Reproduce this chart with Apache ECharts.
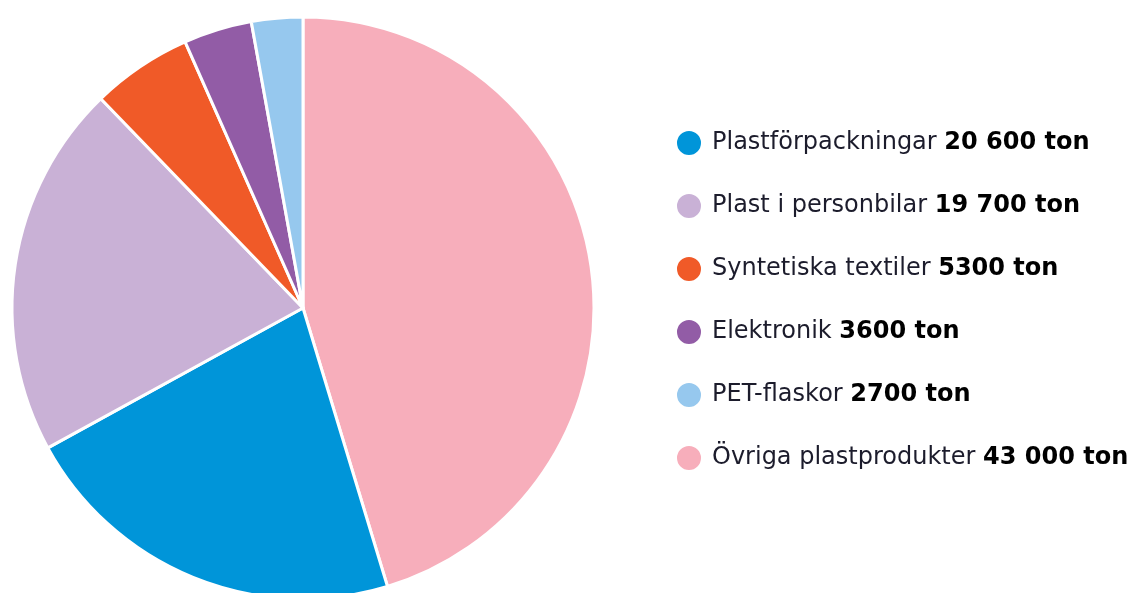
<!DOCTYPE html>
<html>
<head>
<meta charset="utf-8">
<script src="https://cdn.jsdelivr.net/npm/echarts@6/dist/echarts.min.js"></script>
<style>
  html, body { margin: 0; padding: 0; background: #fff; }
  #chart { width: 1137px; height: 593px; }
</style>
</head>
<body>
<div id="chart"></div>
<script>
// slice order as drawn, clockwise from 12 o'clock
const names = ['Övriga plastprodukter', 'Plastförpackningar', 'Plast i personbilar', 'Syntetiska textiler', 'Elektronik', 'PET-flaskor'];
const values = [43000, 20600, 19700, 5300, 3600, 2700];
const valueLabels = ['43 000 ton', '20 600 ton', '19 700 ton', '5300 ton', '3600 ton', '2700 ton'];
const colors = ['#f7aebb', '#0095d9', '#c9b1d6', '#f05a28', '#925ca6', '#96c8ee'];
// legend order
const legendOrder = ['Plastförpackningar', 'Plast i personbilar', 'Syntetiska textiler', 'Elektronik', 'PET-flaskor', 'Övriga plastprodukter'];

const myChart = echarts.init(document.getElementById('chart'));
const option = {
  animation: false,
  legend: {
    orient: 'vertical',
    left: 670,
    top: 124,
    data: legendOrder,
    icon: 'circle',
    itemWidth: 26,
    itemHeight: 26,
    itemGap: 35,
    formatter: function (name) {
      const i = names.indexOf(name);
      return '{n|' + name + ' }{v|' + valueLabels[i] + '}';
    },
    textStyle: {
      rich: {
        n: { fontFamily: 'DejaVu Sans', fontSize: 24, color: '#1c1c2c', padding: [0, 0, 0, 5], height: 26 },
        v: { fontFamily: 'DejaVu Sans', fontSize: 24, fontWeight: 'bold', color: '#000', height: 26 }
      }
    }
  },
  series: [{
    type: 'pie',
    center: [303, 308],
    radius: 291,
    startAngle: 90,
    clockwise: true,
    label: { show: false },
    labelLine: { show: false },
    itemStyle: { borderColor: '#fff', borderWidth: 3 },
    data: names.map((n, i) => ({ name: n, value: values[i], itemStyle: { color: colors[i] } }))
  }]
};
myChart.setOption(option);
</script>
</body>
</html>
